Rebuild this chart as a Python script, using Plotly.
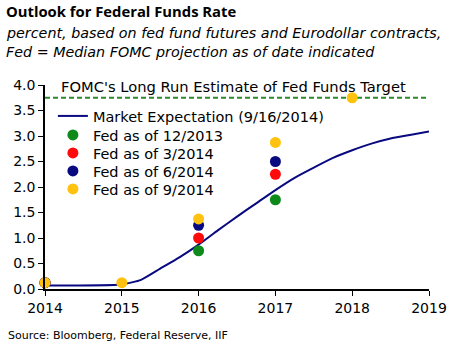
import plotly.graph_objects as go

# Market expectation (9/16/2014)
mkt_x = [2014, 2015, 2015.25, 2015.5, 2015.75, 2016, 2016.25, 2016.5, 2016.75, 2017,
         2017.25, 2017.5, 2017.75, 2018, 2018.25, 2018.5, 2018.75, 2019]
mkt_y = [0.07, 0.09, 0.18, 0.40, 0.62, 0.87, 1.15, 1.42, 1.68, 1.94,
         2.18, 2.38, 2.57, 2.72, 2.85, 2.95, 3.02, 3.09]

fed_years_1213 = [2014, 2016, 2017]
fed_1213 = [0.125, 0.75, 1.75]
fed_years_0314 = [2014, 2016, 2017]
fed_0314 = [0.125, 1.0, 2.25]
fed_years_0614 = [2014, 2016, 2017]
fed_0614 = [0.125, 1.25, 2.5]
fed_years_0914 = [2014, 2015, 2016, 2017, 2018]
fed_0914 = [0.125, 0.125, 1.375, 2.875, 3.75]

long_run_x = [2014, 2019]
long_run_y = [3.75, 3.75]

x_ticks = [2014, 2015, 2016, 2017, 2018, 2019]
y_ticks = [0.0, 0.5, 1.0, 1.5, 2.0, 2.5, 3.0, 3.5, 4.0]

FONT = "DejaVu Sans"
TITLE_FONT = "Open Sans"
W, H = 459, 349
ML, MR, MT, MB = 45, 25, 85, 60
PW, PH = W - ML - MR, H - MT - MB


def py(v):  # pixel row -> paper y
    return (H - MB - v) / PH


def px(v):  # pixel col -> paper x
    return (v - ML) / PW


fig = go.Figure()
fig.add_trace(go.Scatter(x=long_run_x, y=long_run_y, mode="lines",
                         line=dict(color="#2a8a2a", width=2, dash="5px,3px"),
                         showlegend=False, hoverinfo="skip"))
fig.add_trace(go.Scatter(x=mkt_x, y=mkt_y, mode="lines", name="Market Expectation (9/16/2014)",
                         line=dict(color="#0a0a80", width=2, shape="spline", smoothing=0.5),
                         legend="legend"))
series = [
    ("Fed as of 12/2013", fed_years_1213, fed_1213, "#0e8a1a", "legend2"),
    ("Fed as of 3/2014", fed_years_0314, fed_0314, "#ff0a0a", "legend3"),
    ("Fed as of 6/2014", fed_years_0614, fed_0614, "#0a0a80", "legend4"),
    ("Fed as of 9/2014", fed_years_0914, fed_0914, "#ffc20e", "legend5"),
]
for name, xs, ys, c, lg in series:
    fig.add_trace(go.Scatter(x=xs, y=ys, mode="markers", name=name,
                             marker=dict(color=c, size=11, line=dict(width=0)),
                             cliponaxis=False, legend=lg))

row_centers = [116, 135, 153, 171, 189]
legends = {}
for i, rc in enumerate(row_centers):
    key = "legend" if i == 0 else f"legend{i + 1}"
    legends[key] = dict(x=px(53), y=py(rc), xanchor="left", yanchor="middle",
                        bgcolor="rgba(0,0,0,0)", font=dict(size=14.5, family=FONT),
                        itemwidth=30, borderwidth=0)

fig.update_layout(
    width=W, height=H,
    margin=dict(l=ML, r=MR, t=MT, b=MB),
    paper_bgcolor="white", plot_bgcolor="white",
    font=dict(family=FONT, size=14, color="black"),
    showlegend=True,
    **legends,
    xaxis=dict(range=[2014, 2019], tickvals=x_ticks, ticktext=[str(t) for t in x_ticks],
               showgrid=False, zeroline=False, showline=True, linecolor="black", linewidth=1.5,
               ticks="outside", ticklen=5, tickcolor="black", tickfont=dict(size=14)),
    yaxis=dict(range=[0, 4], tickvals=y_ticks, ticktext=[f"{v:.1f}" for v in y_ticks],
               showgrid=False, zeroline=False, showline=True, linecolor="black", linewidth=1.5,
               ticks="outside", ticklen=5, tickcolor="black", tickfont=dict(size=14)),
    annotations=[
        dict(text="<b>Outlook for Federal Funds Rate</b>", xref="paper", yref="paper",
             x=px(4), y=py(11), yanchor="middle", xanchor="left", showarrow=False, borderpad=0,
             font=dict(size=14.8, family=TITLE_FONT)),
        dict(text="<i>percent, based on fed fund futures and Eurodollar contracts,</i>",
             xref="paper", yref="paper", x=px(4), y=py(33), yanchor="middle", xanchor="left",
             showarrow=False, borderpad=0, font=dict(size=14.3, family=FONT)),
        dict(text="<i>Fed = Median FOMC projection as of date indicated</i>",
             xref="paper", yref="paper", x=px(4), y=py(52), yanchor="middle", xanchor="left",
             showarrow=False, borderpad=0, font=dict(size=14.3, family=FONT)),
        dict(text="FOMC's Long Run Estimate of Fed Funds Target", xref="x", yref="y",
             x=2014.2, y=3.75, xanchor="left", yanchor="bottom", yshift=2, showarrow=False,
             borderpad=0, font=dict(size=14.7, family=FONT)),
        dict(text="Source: Bloomberg, Federal Reserve, IIF", xref="paper", yref="paper",
             x=px(7), y=py(335), xanchor="left", yanchor="middle", showarrow=False, borderpad=0,
             font=dict(size=11, family=FONT)),
    ],
)

fig.write_html("out.html")
